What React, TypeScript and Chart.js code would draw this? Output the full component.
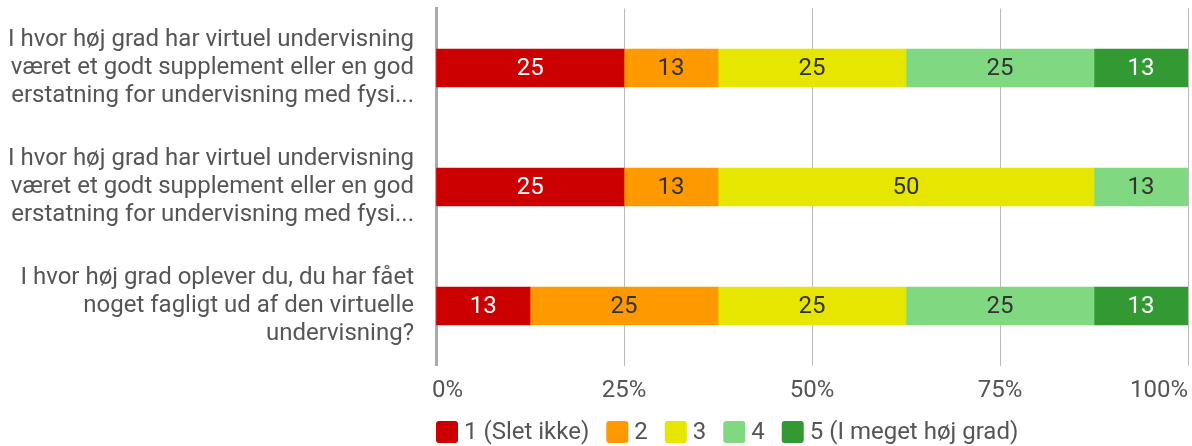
import { useEffect, useRef } from 'react';
import { Chart, registerables } from 'chart.js';

Chart.register(...registerables);

const questions: string[][] = [
  ['I hvor høj grad har virtuel undervisning', 'været et godt supplement eller en god', 'erstatning for undervisning med fysi...'],
  ['I hvor høj grad har virtuel undervisning', 'været et godt supplement eller en god', 'erstatning for undervisning med fysi...'],
  ['I hvor høj grad oplever du, du har fået', 'noget fagligt ud af den virtuelle', 'undervisning?'],
];

const seriesNames = ['1 (Slet ikke)', '2', '3', '4', '5 (I meget høj grad)'];
const seriesColors = ['#cc0000', '#ff9900', '#e6e600', '#80d880', '#339933'];
const valueLabelColors = ['#ffffff', '#333333', '#333333', '#333333', '#ffffff'];

const sletIkke = [25, 25, 12.5];
const two = [12.5, 12.5, 25];
const three = [25, 50, 25];
const four = [25, 12.5, 25];
const megetHoj = [12.5, 0, 12.5];

const xTickValues = [0, 25, 50, 75, 100];

const FONT = 'Roboto';
const TEXT_GRAY = '#555555';

const barLabelsPlugin = {
  id: 'barLabels',
  afterDatasetsDraw(chart: any) {
    const ctx = chart.ctx;
    ctx.save();
    ctx.font = `24px ${FONT}`;
    ctx.textAlign = 'center';
    ctx.textBaseline = 'middle';
    chart.data.datasets.forEach((ds: any, di: number) => {
      const meta = chart.getDatasetMeta(di);
      meta.data.forEach((el: any, i: number) => {
        const v = ds.data[i];
        if (!v) return;
        const { x, y, base } = el.getProps(['x', 'y', 'base'], true);
        ctx.fillStyle = valueLabelColors[di];
        ctx.fillText(String(Math.round(v)), (x + base) / 2, y + 1);
      });
    });
    ctx.restore();
  },
};

const xTickLabelsPlugin = {
  id: 'xTickLabels',
  afterDraw(chart: any) {
    const ctx = chart.ctx;
    const scale = chart.scales.x;
    const area = chart.chartArea;
    ctx.save();
    ctx.font = `24px ${FONT}`;
    ctx.fillStyle = TEXT_GRAY;
    ctx.textBaseline = 'middle';
    xTickValues.forEach((v, i) => {
      const px = scale.getPixelForValue(v);
      let x = px;
      if (i === 0) {
        ctx.textAlign = 'left';
        x = px - 4;
      } else if (i === xTickValues.length - 1) {
        ctx.textAlign = 'right';
      } else {
        ctx.textAlign = 'center';
      }
      ctx.fillText(`${v}%`, x, area.bottom + 25);
    });
    ctx.restore();
  },
};

const legendPlugin = {
  id: 'customLegend',
  afterDraw(chart: any) {
    const ctx = chart.ctx;
    const area = chart.chartArea;
    const box = 22;
    const y = area.bottom + 66.5;
    let x = area.left;
    ctx.save();
    ctx.font = `24px ${FONT}`;
    ctx.textBaseline = 'middle';
    ctx.textAlign = 'left';
    chart.data.datasets.forEach((ds: any) => {
      ctx.fillStyle = ds.backgroundColor;
      ctx.beginPath();
      if (ctx.roundRect) ctx.roundRect(x, y - box / 2, box, box, 3);
      else ctx.rect(x, y - box / 2, box, box);
      ctx.fill();
      x += box + 6;
      ctx.fillStyle = TEXT_GRAY;
      ctx.fillText(ds.label, x, y + 1);
      x += ctx.measureText(ds.label).width + 17;
    });
    ctx.restore();
  },
};

export default function App() {
  const canvasRef = useRef<HTMLCanvasElement | null>(null);

  useEffect(() => {
    if (!canvasRef.current) return;
    const seriesData = [sletIkke, two, three, four, megetHoj];
    const chart = new Chart(canvasRef.current, {
      type: 'bar',
      data: {
        labels: questions,
        datasets: seriesNames.map((name, i) => ({
          label: name,
          data: seriesData[i],
          backgroundColor: seriesColors[i],
          borderWidth: 0,
          barThickness: 38,
        })),
      },
      options: {
        indexAxis: 'y',
        responsive: false,
        maintainAspectRatio: false,
        animation: false,
        devicePixelRatio: 1,
        layout: { padding: { left: 0, right: 4, top: 8.5, bottom: 80.5 } },
        plugins: {
          legend: { display: false },
          tooltip: { enabled: false },
        },
        scales: {
          x: {
            stacked: true,
            min: 0,
            max: 100,
            ticks: { display: false, stepSize: 25 },
            grid: { color: '#bbbbbb', lineWidth: 1, drawTicks: false },
            border: { display: false },
          },
          y: {
            stacked: true,
            grid: { display: false, drawTicks: false },
            border: { display: true, width: 3, color: '#aaaaaa' },
            ticks: {
              color: TEXT_GRAY,
              padding: 22,
              font: { family: FONT, size: 24, lineHeight: 28 / 24 },
            },
            afterFit(scale: any) {
              scale.width = 436;
              scale.paddingTop = 0;
              scale.paddingBottom = 0;
            },
          },
        },
      },
      plugins: [barLabelsPlugin, xTickLabelsPlugin, legendPlugin],
    });
    return () => chart.destroy();
  }, []);

  return (
    <div style={{ position: 'absolute', left: 0, top: 0, width: 1192, height: 446 }}>
      <canvas ref={canvasRef} width={1192} height={446} style={{ display: 'block' }} />
    </div>
  );
}
